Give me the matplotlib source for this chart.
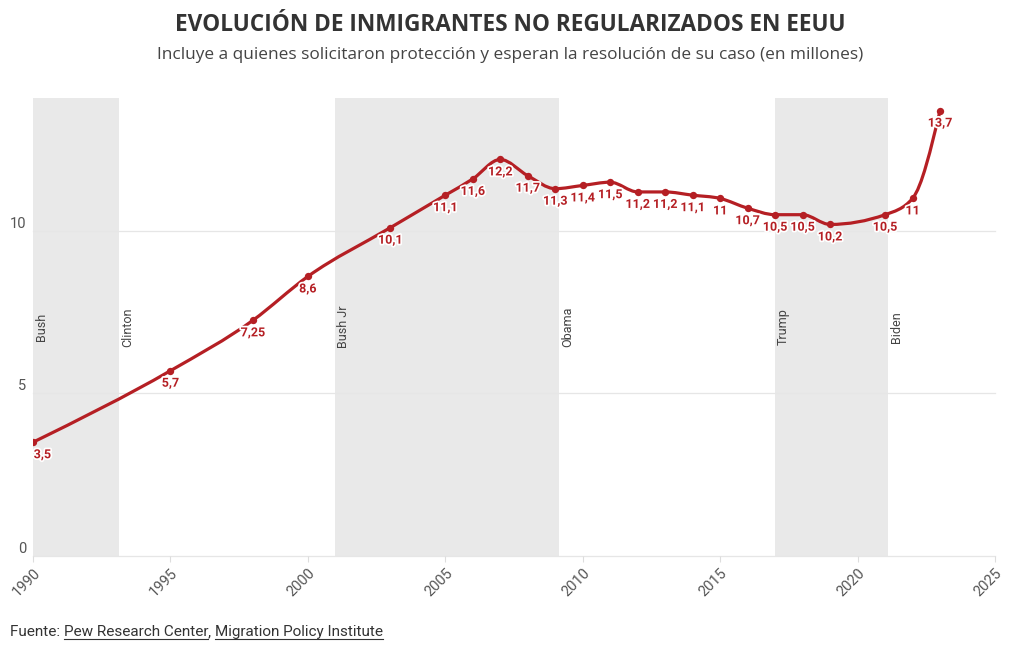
import numpy as np
import matplotlib
matplotlib.use('Agg')
import matplotlib.pyplot as plt
import matplotlib.patheffects as pe
from matplotlib.path import Path
from matplotlib.patches import PathPatch

years = [1990, 1995, 1998, 2000, 2003, 2005, 2006, 2007, 2008, 2009, 2010, 2011,
         2012, 2013, 2014, 2015, 2016, 2017, 2018, 2019, 2021, 2022, 2023]
values = [3.5, 5.7, 7.25, 8.6, 10.1, 11.1, 11.6, 12.2, 11.7, 11.3, 11.4, 11.5,
          11.2, 11.2, 11.1, 11.0, 10.7, 10.5, 10.5, 10.2, 10.5, 11.0, 13.7]
value_labels = ["3,5", "5,7", "7,25", "8,6", "10,1", "11,1", "11,6", "12,2", "11,7",
                "11,3", "11,4", "11,5", "11,2", "11,2", "11,1", "11", "10,7", "10,5",
                "10,5", "10,2", "10,5", "11", "13,7"]
presidents = ["Bush", "Clinton", "Bush Jr", "Obama", "Trump", "Biden"]
term_starts = [1989.0, 1993.13, 2000.98, 2009.13, 2017.0, 2021.1]
term_ends = [1993.13, 2000.98, 2009.13, 2017.0, 2021.1, 2025.1]
term_shaded = [True, False, True, False, True, False]
x_ticks = [1990, 1995, 2000, 2005, 2010, 2015, 2020, 2025]
y_ticks = [0, 5, 10]

RED = '#b51f24'
FONT = ['Roboto', 'DejaVu Sans']
TITLE_FONT = ['Open Sans', 'DejaVu Sans']
plt.rcParams['font.family'] = FONT

W, H = 1020, 650
fig = plt.figure(figsize=(W / 100, H / 100), dpi=100)
ax = fig.add_axes([33 / W, 94 / H, 962 / W, 458 / H])
ax.set_xlim(1990, 2025)
ax.set_ylim(0, 14.09)

# shaded presidential terms
for s, e, sh, name in zip(term_starts, term_ends, term_shaded, presidents):
    if sh:
        ax.axvspan(s, e, color='#e9e9e9', lw=0, zorder=0)
    xpos = max(s, 1990)
    ax.annotate(name, xy=(xpos, 7.05), xytext=(1.5, 0), textcoords='offset points',
                rotation=90, ha='left', va='center', fontsize=9, color='#444444',
                zorder=3)

# grid
for yv in y_ticks:
    ax.axhline(yv, color='#e6e6e6', lw=0.9, zorder=1, clip_on=False)

# monotone cubic curve (d3 curveMonotoneX style) via Bezier path
x = np.array(years, dtype=float)
y = np.array(values, dtype=float)
n = len(x)
h = np.diff(x)
s = np.diff(y) / h
t = np.zeros(n)
for i in range(1, n - 1):
    s0, s1 = s[i - 1], s[i]
    h0, h1 = h[i - 1], h[i]
    p = (s0 * h1 + s1 * h0) / (h0 + h1)
    t[i] = (np.sign(s0) + np.sign(s1)) * min(abs(s0), abs(s1), 0.5 * abs(p))
t[0] = (3 * s[0] - t[1]) / 2
t[-1] = (3 * s[-1] - t[-2]) / 2
verts = [(x[0], y[0])]
codes = [Path.MOVETO]
for i in range(n - 1):
    dx = (x[i + 1] - x[i]) / 3
    verts += [(x[i] + dx, y[i] + dx * t[i]), (x[i + 1] - dx, y[i + 1] - dx * t[i + 1]),
              (x[i + 1], y[i + 1])]
    codes += [Path.CURVE4] * 3
ax.add_patch(PathPatch(Path(verts, codes), fill=False, edgecolor=RED, lw=2.3,
                       zorder=4, capstyle='round', joinstyle='round'))
ax.scatter(years, values, s=28, color=RED, zorder=5, linewidths=0)

halo = [pe.withStroke(linewidth=2.5, foreground='white')]
for i, (xv, yv, lab) in enumerate(zip(years, values, value_labels)):
    if i == 0:
        ax.annotate(lab, xy=(xv, yv), xytext=(0.5, -9), textcoords='offset points',
                    ha='left', va='center', fontsize=9, fontweight='bold', color=RED,
                    zorder=6, path_effects=halo)
    else:
        ax.annotate(lab, xy=(xv, yv), xytext=(0, -9), textcoords='offset points',
                    ha='center', va='center', fontsize=9, fontweight='bold', color=RED,
                    zorder=6, path_effects=halo)

# axes styling
for sp in ax.spines.values():
    sp.set_visible(False)
ax.set_xticks(x_ticks)
ax.set_xticklabels([str(v) for v in x_ticks], rotation=45, ha='right',
                   rotation_mode='anchor', fontsize=10.5, color='#555555')
ax.tick_params(axis='x', length=4, color='#dddddd', pad=3)
ax.set_yticks(y_ticks)
ax.set_yticklabels([str(v) for v in y_ticks], fontsize=10.5, color='#555555',
                   va='bottom')
ax.tick_params(axis='y', length=0, pad=5)
ax.patch.set_alpha(0)

# titles
fig.text(0.5, 1 - 25 / H, "EVOLUCIÓN DE INMIGRANTES NO REGULARIZADOS EN EEUU",
         ha='center', va='center', fontsize=16.3, fontweight='bold', color='#333333',
         family=TITLE_FONT)
fig.text(0.5, 1 - 55 / H,
         "Incluye a quienes solicitaron protección y esperan la resolución de su caso (en millones)",
         ha='center', va='center', fontsize=12.4, color='#444444', family=TITLE_FONT)

# source with underlined links
fig.canvas.draw()
renderer = fig.canvas.get_renderer()
pieces = [("Fuente: ", False), ("Pew Research Center", True), (", ", False),
          ("Migration Policy Institute", True)]
xpix = 10
ybase = H - 636
for txt, underline in pieces:
    tt = fig.text(xpix / W, ybase / H, txt, ha='left', va='baseline', fontsize=10.95,
                  color='#333333')
    bb = tt.get_window_extent(renderer=renderer)
    if underline:
        fig.add_artist(plt.Line2D([bb.x0 / W, bb.x1 / W], [(ybase - 3) / H, (ybase - 3) / H],
                                  color='#333333', lw=0.8, transform=fig.transFigure))
    xpix = bb.x1

fig.savefig('out.png', dpi=100, facecolor='white')
